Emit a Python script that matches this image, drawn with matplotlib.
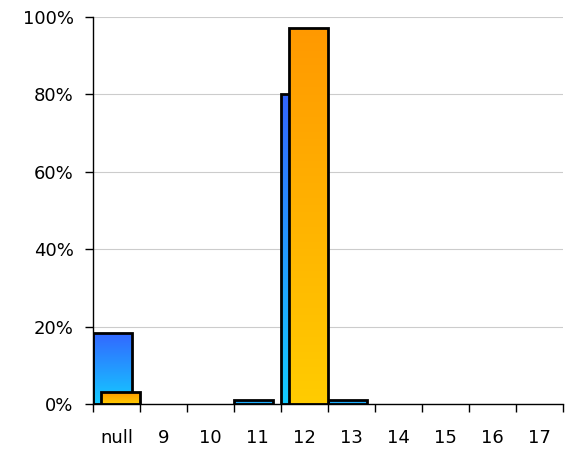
import matplotlib
matplotlib.use("Agg")
import matplotlib.pyplot as plt
from matplotlib.colors import LinearSegmentedColormap
import numpy as np

categories = ["null", "9", "10", "11", "12", "13", "14", "15", "16", "17"]
blue_vals = [18.4, 0, 0, 1.1, 80.1, 1.1, 0, 0, 0, 0]
orange_vals = [3.0, 0, 0, 0, 97.1, 0, 0, 0, 0, 0]

blue_cmap = LinearSegmentedColormap.from_list("b", ["#14CCFF", "#3366FF"])
orange_cmap = LinearSegmentedColormap.from_list("o", ["#FFCC00", "#FF9900"])

fig = plt.figure(figsize=(5.69, 4.5), dpi=100)
ax = fig.add_axes([93 / 569, 1 - 404 / 450, 470 / 569, 387 / 450])

x = np.arange(len(categories))
w = 0.83
grad = np.linspace(0, 1, 256).reshape(-1, 1)


def gradient_bars(left, vals, cmap, z):
    bars = ax.bar(left, vals, width=w, align="edge", facecolor="none",
                  edgecolor="black", linewidth=2, zorder=z + 1)
    for b, v in zip(bars, vals):
        if v <= 0:
            b.set_linewidth(0)
            continue
        x0 = b.get_x()
        im = ax.imshow(grad, cmap=cmap, origin="lower", aspect="auto",
                       extent=(x0, x0 + w, 0, v), zorder=z)
        im.set_clip_path(b)


gradient_bars(x - 0.5, blue_vals, blue_cmap, 3)
gradient_bars(x - 0.5 + 0.17, orange_vals, orange_cmap, 5)

ax.set_xlim(-0.5, len(categories) - 0.5)
ax.set_ylim(0, 100)
ax.set_yticks(np.arange(0, 101, 20))
ax.set_yticklabels([f"{v}%" for v in range(0, 101, 20)], fontsize=13)
ax.set_xticks(x)
ax.set_xticklabels(categories, fontsize=13)
ax.set_xticks(np.arange(-0.5, len(categories)), minor=True)
ax.tick_params(axis="x", which="major", length=0, pad=18)
ax.tick_params(axis="x", which="minor", length=6, width=1)
ax.tick_params(axis="y", length=6, width=1, pad=8)
ax.yaxis.grid(True, color="#cccccc", linewidth=0.8)
ax.set_axisbelow(True)
for s in ["top", "right"]:
    ax.spines[s].set_visible(False)
for s in ["left", "bottom"]:
    ax.spines[s].set_linewidth(1)
    ax.spines[s].set_zorder(10)

fig.savefig("out.png", dpi=100)
